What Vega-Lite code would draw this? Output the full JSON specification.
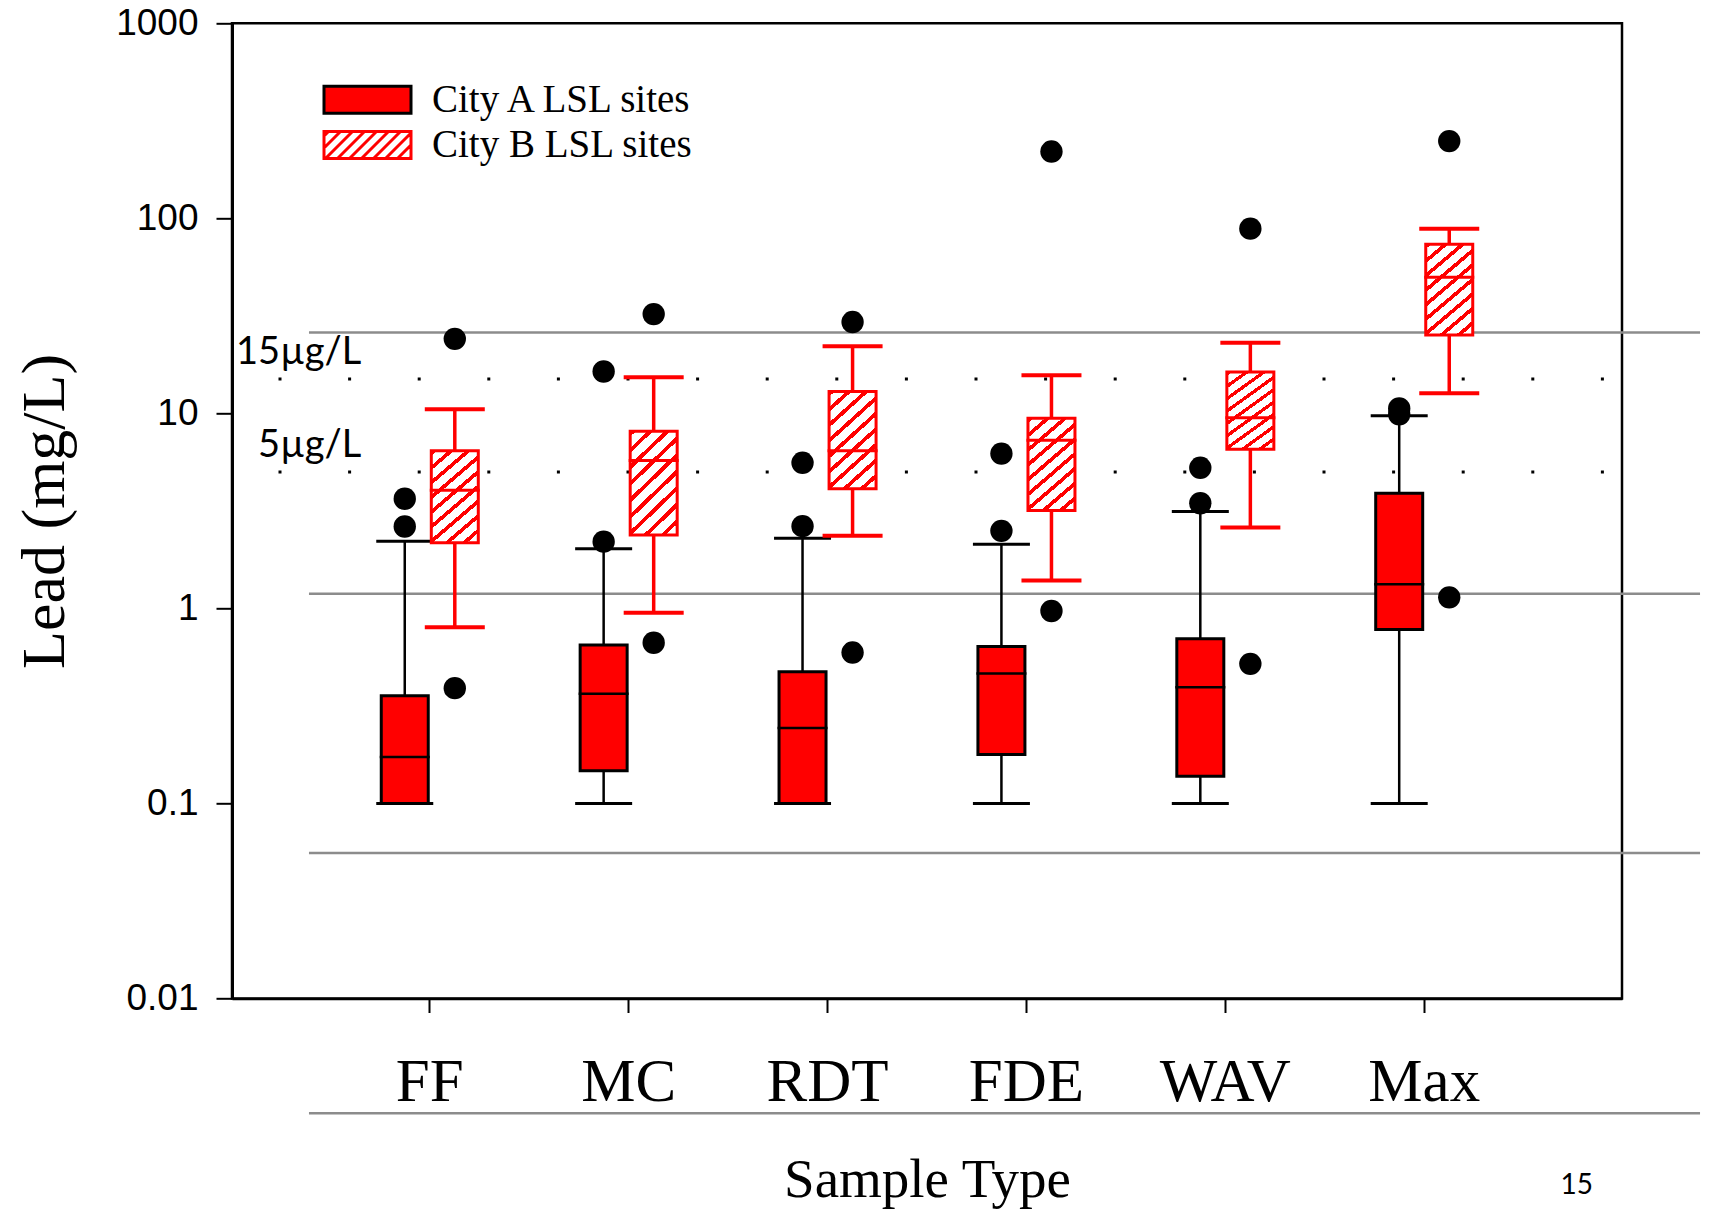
{
  "$schema": "https://vega.github.io/schema/vega-lite/v6.json",
  "width": 1390,
  "height": 975.2,
  "autosize": {"type": "none"},
  "padding": {"left": 232, "top": 23.3, "right": 92, "bottom": 210.5},
  "background": "white",
  "title": {"text": "15", "orient": "bottom", "anchor": "end", "frame": "group", "font": "Lato", "fontSize": 28, "fontWeight": "normal", "color": "black", "dx": -29, "offset": -13, "baseline": "alphabetic"},
  "datasets": {
    "boxes": [
      {"type": "FF", "city": "City A LSL sites", "low": 0.1, "q1": 0.1, "median": 0.173, "q3": 0.357, "high": 2.21},
      {"type": "FF", "city": "City B LSL sites", "low": 0.8, "q1": 2.17, "median": 4.04, "q3": 6.43, "high": 10.5},
      {"type": "MC", "city": "City A LSL sites", "low": 0.1, "q1": 0.147, "median": 0.365, "q3": 0.65, "high": 2.02},
      {"type": "MC", "city": "City B LSL sites", "low": 0.95, "q1": 2.38, "median": 5.74, "q3": 8.1, "high": 15.3},
      {"type": "RDT", "city": "City A LSL sites", "low": 0.1, "q1": 0.1, "median": 0.244, "q3": 0.473, "high": 2.29},
      {"type": "RDT", "city": "City B LSL sites", "low": 2.36, "q1": 4.11, "median": 6.43, "q3": 12.95, "high": 22.1},
      {"type": "FDE", "city": "City A LSL sites", "low": 0.1, "q1": 0.178, "median": 0.464, "q3": 0.637, "high": 2.13},
      {"type": "FDE", "city": "City B LSL sites", "low": 1.39, "q1": 3.18, "median": 7.29, "q3": 9.45, "high": 15.7},
      {"type": "WAV", "city": "City A LSL sites", "low": 0.1, "q1": 0.138, "median": 0.394, "q3": 0.698, "high": 3.14},
      {"type": "WAV", "city": "City B LSL sites", "low": 2.6, "q1": 6.54, "median": 9.5, "q3": 16.3, "high": 23.0},
      {"type": "Max", "city": "City A LSL sites", "low": 0.1, "q1": 0.78, "median": 1.33, "q3": 3.9, "high": 9.72},
      {"type": "Max", "city": "City B LSL sites", "low": 12.7, "q1": 25.2, "median": 49.9, "q3": 73.7, "high": 88.5}
    ],
    "outliers": [
      {"type": "FF", "city": "City A LSL sites", "value": 3.65},
      {"type": "FF", "city": "City A LSL sites", "value": 2.63},
      {"type": "FF", "city": "City B LSL sites", "value": 24.1},
      {"type": "FF", "city": "City B LSL sites", "value": 0.39},
      {"type": "MC", "city": "City A LSL sites", "value": 16.4},
      {"type": "MC", "city": "City A LSL sites", "value": 2.2},
      {"type": "MC", "city": "City B LSL sites", "value": 32.3},
      {"type": "MC", "city": "City B LSL sites", "value": 0.667},
      {"type": "RDT", "city": "City A LSL sites", "value": 5.58},
      {"type": "RDT", "city": "City A LSL sites", "value": 2.64},
      {"type": "RDT", "city": "City B LSL sites", "value": 29.4},
      {"type": "RDT", "city": "City B LSL sites", "value": 0.594},
      {"type": "FDE", "city": "City A LSL sites", "value": 6.22},
      {"type": "FDE", "city": "City A LSL sites", "value": 2.5},
      {"type": "FDE", "city": "City B LSL sites", "value": 220},
      {"type": "FDE", "city": "City B LSL sites", "value": 0.97},
      {"type": "WAV", "city": "City A LSL sites", "value": 5.26},
      {"type": "WAV", "city": "City A LSL sites", "value": 3.46},
      {"type": "WAV", "city": "City B LSL sites", "value": 88.5},
      {"type": "WAV", "city": "City B LSL sites", "value": 0.52},
      {"type": "Max", "city": "City A LSL sites", "value": 10.6},
      {"type": "Max", "city": "City A LSL sites", "value": 9.9},
      {"type": "Max", "city": "City B LSL sites", "value": 249},
      {"type": "Max", "city": "City B LSL sites", "value": 1.14}
    ],
    "slide": [{"level": 26.0}, {"level": 1.19}, {"level": 0.0557}, {"level": 0.00258}],
    "limits": [{"limit": 15, "label": "15µg/L"}, {"limit": 5, "label": "5µg/L"}]
  },
  "layer": [
    {
      "data": {"name": "slide"},
      "mark": {"type": "rule", "color": "#8c8c8c", "strokeWidth": 2.5, "xOffset": -120.8, "x2Offset": 275.8},
      "encoding": {
        "x": {"datum": "FF", "type": "nominal", "scale": {"type": "band", "domain": ["FF", "MC", "RDT", "FDE", "WAV", "Max"], "paddingInner": 0.4968, "paddingOuter": 0.7428},
          "axis": {"title": "Sample Type", "titleX": 695, "titleY": 197.5, "titleBaseline": "alphabetic", "labelAngle": 0}},
        "x2": {"datum": "Max"},
        "y": {"field": "level", "type": "quantitative", "scale": {"type": "log", "domain": [0.01, 1000], "nice": false},
          "axis": {"values": [0.01, 0.1, 1, 10, 100, 1000], "format": "~g", "title": "Lead (mg/L)", "titleAngle": -90, "titleBaseline": "alphabetic", "titleAlign": "center", "titleX": -168.7, "titleY": 487.6, "labelFlush": false, "labelOverlap": false}}
      }
    },
    {
      "data": {"name": "limits"},
      "mark": {"type": "rule", "color": "black", "strokeWidth": 3, "strokeDash": [3, 66.6], "strokeDashOffset": 51.5},
      "encoding": {
        "y": {"field": "limit", "type": "quantitative", "scale": {"type": "log", "domain": [0.01, 1000], "nice": false},
          "axis": {"values": [0.01, 0.1, 1, 10, 100, 1000], "format": "~g", "title": "Lead (mg/L)", "titleAngle": -90, "titleBaseline": "alphabetic", "titleAlign": "center", "titleX": -168.7, "titleY": 487.6, "labelFlush": false, "labelOverlap": false}}
      }
    },
    {
      "data": {"name": "limits"},
      "mark": {"type": "text", "font": "Lato", "fontSize": 38, "align": "right", "baseline": "alphabetic", "dx": -68.5, "dy": -15, "color": "black"},
      "encoding": {
        "x": {"datum": "FF", "type": "nominal", "scale": {"type": "band", "domain": ["FF", "MC", "RDT", "FDE", "WAV", "Max"], "paddingInner": 0.4968, "paddingOuter": 0.7428},
          "axis": {"title": "Sample Type", "titleX": 695, "titleY": 197.5, "titleBaseline": "alphabetic", "labelAngle": 0}},
        "y": {"field": "limit", "type": "quantitative", "scale": {"type": "log", "domain": [0.01, 1000], "nice": false},
          "axis": {"values": [0.01, 0.1, 1, 10, 100, 1000], "format": "~g", "title": "Lead (mg/L)", "titleAngle": -90, "titleBaseline": "alphabetic", "titleAlign": "center", "titleX": -168.7, "titleY": 487.6, "labelFlush": false, "labelOverlap": false}},
        "text": {"field": "label"}
      }
    },
    {
      "data": {"name": "boxes"},
      "transform": [{"filter": "datum.city === 'City A LSL sites'"}],
      "mark": {"type": "rule", "color": "black", "strokeWidth": 2.5},
      "encoding": {
        "x": {"field": "type", "type": "nominal", "scale": {"type": "band", "domain": ["FF", "MC", "RDT", "FDE", "WAV", "Max"], "paddingInner": 0.4968, "paddingOuter": 0.7428},
          "axis": {"title": "Sample Type", "titleX": 695, "titleY": 197.5, "titleBaseline": "alphabetic", "labelAngle": 0}},
        "xOffset": {"field": "city", "type": "nominal", "scale": {"domain": ["City A LSL sites", "City B LSL sites"], "paddingInner": 0, "paddingOuter": 0}},
        "y": {"field": "low", "type": "quantitative", "scale": {"type": "log", "domain": [0.01, 1000], "nice": false},
          "axis": {"values": [0.01, 0.1, 1, 10, 100, 1000], "format": "~g", "title": "Lead (mg/L)", "titleAngle": -90, "titleBaseline": "alphabetic", "titleAlign": "center", "titleX": -168.7, "titleY": 487.6, "labelFlush": false, "labelOverlap": false}},
        "y2": {"field": "high"}
      }
    },
    {
      "data": {"name": "boxes"},
      "transform": [{"filter": "datum.city === 'City B LSL sites'"}],
      "mark": {"type": "rule", "color": "#ff0000", "strokeWidth": 3.5},
      "encoding": {
        "x": {"field": "type", "type": "nominal", "scale": {"type": "band", "domain": ["FF", "MC", "RDT", "FDE", "WAV", "Max"], "paddingInner": 0.4968, "paddingOuter": 0.7428},
          "axis": {"title": "Sample Type", "titleX": 695, "titleY": 197.5, "titleBaseline": "alphabetic", "labelAngle": 0}},
        "xOffset": {"field": "city", "type": "nominal", "scale": {"domain": ["City A LSL sites", "City B LSL sites"], "paddingInner": 0, "paddingOuter": 0}},
        "y": {"field": "low", "type": "quantitative", "scale": {"type": "log", "domain": [0.01, 1000], "nice": false},
          "axis": {"values": [0.01, 0.1, 1, 10, 100, 1000], "format": "~g", "title": "Lead (mg/L)", "titleAngle": -90, "titleBaseline": "alphabetic", "titleAlign": "center", "titleX": -168.7, "titleY": 487.6, "labelFlush": false, "labelOverlap": false}},
        "y2": {"field": "high"}
      }
    },
    {
      "data": {"name": "boxes"},
      "transform": [{"filter": "datum.city === 'City A LSL sites'"}, {"fold": ["low", "high"], "as": ["end", "value"]}],
      "mark": {"type": "tick", "color": "black", "size": 57, "thickness": 3, "opacity": 1},
      "encoding": {
        "x": {"field": "type", "type": "nominal", "scale": {"type": "band", "domain": ["FF", "MC", "RDT", "FDE", "WAV", "Max"], "paddingInner": 0.4968, "paddingOuter": 0.7428},
          "axis": {"title": "Sample Type", "titleX": 695, "titleY": 197.5, "titleBaseline": "alphabetic", "labelAngle": 0}},
        "xOffset": {"field": "city", "type": "nominal", "scale": {"domain": ["City A LSL sites", "City B LSL sites"], "paddingInner": 0, "paddingOuter": 0}},
        "y": {"field": "value", "type": "quantitative", "scale": {"type": "log", "domain": [0.01, 1000], "nice": false},
          "axis": {"values": [0.01, 0.1, 1, 10, 100, 1000], "format": "~g", "title": "Lead (mg/L)", "titleAngle": -90, "titleBaseline": "alphabetic", "titleAlign": "center", "titleX": -168.7, "titleY": 487.6, "labelFlush": false, "labelOverlap": false}}
      }
    },
    {
      "data": {"name": "boxes"},
      "transform": [{"filter": "datum.city === 'City B LSL sites'"}, {"fold": ["low", "high"], "as": ["end", "value"]}],
      "mark": {"type": "tick", "color": "#ff0000", "size": 60, "thickness": 4, "opacity": 1},
      "encoding": {
        "x": {"field": "type", "type": "nominal", "scale": {"type": "band", "domain": ["FF", "MC", "RDT", "FDE", "WAV", "Max"], "paddingInner": 0.4968, "paddingOuter": 0.7428},
          "axis": {"title": "Sample Type", "titleX": 695, "titleY": 197.5, "titleBaseline": "alphabetic", "labelAngle": 0}},
        "xOffset": {"field": "city", "type": "nominal", "scale": {"domain": ["City A LSL sites", "City B LSL sites"], "paddingInner": 0, "paddingOuter": 0}},
        "y": {"field": "value", "type": "quantitative", "scale": {"type": "log", "domain": [0.01, 1000], "nice": false},
          "axis": {"values": [0.01, 0.1, 1, 10, 100, 1000], "format": "~g", "title": "Lead (mg/L)", "titleAngle": -90, "titleBaseline": "alphabetic", "titleAlign": "center", "titleX": -168.7, "titleY": 487.6, "labelFlush": false, "labelOverlap": false}}
      }
    },
    {
      "data": {"name": "boxes"},
      "transform": [{"filter": "datum.city === 'City A LSL sites'"}],
      "mark": {"type": "bar", "fill": "#ff0000", "stroke": "black", "strokeWidth": 3, "width": 47, "opacity": 1},
      "encoding": {
        "x": {"field": "type", "type": "nominal", "scale": {"type": "band", "domain": ["FF", "MC", "RDT", "FDE", "WAV", "Max"], "paddingInner": 0.4968, "paddingOuter": 0.7428},
          "axis": {"title": "Sample Type", "titleX": 695, "titleY": 197.5, "titleBaseline": "alphabetic", "labelAngle": 0}},
        "xOffset": {"field": "city", "type": "nominal", "scale": {"domain": ["City A LSL sites", "City B LSL sites"], "paddingInner": 0, "paddingOuter": 0}},
        "y": {"field": "q1", "type": "quantitative", "scale": {"type": "log", "domain": [0.01, 1000], "nice": false},
          "axis": {"values": [0.01, 0.1, 1, 10, 100, 1000], "format": "~g", "title": "Lead (mg/L)", "titleAngle": -90, "titleBaseline": "alphabetic", "titleAlign": "center", "titleX": -168.7, "titleY": 487.6, "labelFlush": false, "labelOverlap": false}},
        "y2": {"field": "q3"}
      }
    },
    {
      "data": {"name": "boxes"},
      "transform": [{"filter": "datum.city === 'City B LSL sites'"}],
      "mark": {"type": "bar", "stroke": "#ff0000", "strokeWidth": 3, "width": 47, "opacity": 1,
        "fill": {"gradient": "linear", "x1": 0, "y1": 0, "x2": 0.5285, "y2": 1.2066, "stops": [
          {"offset": 0, "color": "#ff0000"}, {"offset": 0.0367, "color": "#ff0000"}, {"offset": 0.0367, "color": "#ffffff"}, {"offset": 0.1111, "color": "#ffffff"},
          {"offset": 0.1111, "color": "#ff0000"}, {"offset": 0.1478, "color": "#ff0000"}, {"offset": 0.1478, "color": "#ffffff"}, {"offset": 0.2222, "color": "#ffffff"},
          {"offset": 0.2222, "color": "#ff0000"}, {"offset": 0.2589, "color": "#ff0000"}, {"offset": 0.2589, "color": "#ffffff"}, {"offset": 0.3333, "color": "#ffffff"},
          {"offset": 0.3333, "color": "#ff0000"}, {"offset": 0.37, "color": "#ff0000"}, {"offset": 0.37, "color": "#ffffff"}, {"offset": 0.4444, "color": "#ffffff"},
          {"offset": 0.4444, "color": "#ff0000"}, {"offset": 0.4811, "color": "#ff0000"}, {"offset": 0.4811, "color": "#ffffff"}, {"offset": 0.5556, "color": "#ffffff"},
          {"offset": 0.5556, "color": "#ff0000"}, {"offset": 0.5922, "color": "#ff0000"}, {"offset": 0.5922, "color": "#ffffff"}, {"offset": 0.6667, "color": "#ffffff"},
          {"offset": 0.6667, "color": "#ff0000"}, {"offset": 0.7033, "color": "#ff0000"}, {"offset": 0.7033, "color": "#ffffff"}, {"offset": 0.7778, "color": "#ffffff"},
          {"offset": 0.7778, "color": "#ff0000"}, {"offset": 0.8144, "color": "#ff0000"}, {"offset": 0.8144, "color": "#ffffff"}, {"offset": 0.8889, "color": "#ffffff"},
          {"offset": 0.8889, "color": "#ff0000"}, {"offset": 0.9256, "color": "#ff0000"}, {"offset": 0.9256, "color": "#ffffff"}, {"offset": 1, "color": "#ffffff"}
        ]}},
      "encoding": {
        "x": {"field": "type", "type": "nominal", "scale": {"type": "band", "domain": ["FF", "MC", "RDT", "FDE", "WAV", "Max"], "paddingInner": 0.4968, "paddingOuter": 0.7428},
          "axis": {"title": "Sample Type", "titleX": 695, "titleY": 197.5, "titleBaseline": "alphabetic", "labelAngle": 0}},
        "xOffset": {"field": "city", "type": "nominal", "scale": {"domain": ["City A LSL sites", "City B LSL sites"], "paddingInner": 0, "paddingOuter": 0}},
        "y": {"field": "q1", "type": "quantitative", "scale": {"type": "log", "domain": [0.01, 1000], "nice": false},
          "axis": {"values": [0.01, 0.1, 1, 10, 100, 1000], "format": "~g", "title": "Lead (mg/L)", "titleAngle": -90, "titleBaseline": "alphabetic", "titleAlign": "center", "titleX": -168.7, "titleY": 487.6, "labelFlush": false, "labelOverlap": false}},
        "y2": {"field": "q3"}
      }
    },
    {
      "data": {"name": "boxes"},
      "transform": [{"filter": "datum.city === 'City A LSL sites'"}],
      "mark": {"type": "tick", "color": "black", "size": 50, "thickness": 2.5, "opacity": 1},
      "encoding": {
        "x": {"field": "type", "type": "nominal", "scale": {"type": "band", "domain": ["FF", "MC", "RDT", "FDE", "WAV", "Max"], "paddingInner": 0.4968, "paddingOuter": 0.7428},
          "axis": {"title": "Sample Type", "titleX": 695, "titleY": 197.5, "titleBaseline": "alphabetic", "labelAngle": 0}},
        "xOffset": {"field": "city", "type": "nominal", "scale": {"domain": ["City A LSL sites", "City B LSL sites"], "paddingInner": 0, "paddingOuter": 0}},
        "y": {"field": "median", "type": "quantitative", "scale": {"type": "log", "domain": [0.01, 1000], "nice": false},
          "axis": {"values": [0.01, 0.1, 1, 10, 100, 1000], "format": "~g", "title": "Lead (mg/L)", "titleAngle": -90, "titleBaseline": "alphabetic", "titleAlign": "center", "titleX": -168.7, "titleY": 487.6, "labelFlush": false, "labelOverlap": false}}
      }
    },
    {
      "data": {"name": "boxes"},
      "transform": [{"filter": "datum.city === 'City B LSL sites'"}],
      "mark": {"type": "tick", "color": "#ff0000", "size": 50, "thickness": 3, "opacity": 1},
      "encoding": {
        "x": {"field": "type", "type": "nominal", "scale": {"type": "band", "domain": ["FF", "MC", "RDT", "FDE", "WAV", "Max"], "paddingInner": 0.4968, "paddingOuter": 0.7428},
          "axis": {"title": "Sample Type", "titleX": 695, "titleY": 197.5, "titleBaseline": "alphabetic", "labelAngle": 0}},
        "xOffset": {"field": "city", "type": "nominal", "scale": {"domain": ["City A LSL sites", "City B LSL sites"], "paddingInner": 0, "paddingOuter": 0}},
        "y": {"field": "median", "type": "quantitative", "scale": {"type": "log", "domain": [0.01, 1000], "nice": false},
          "axis": {"values": [0.01, 0.1, 1, 10, 100, 1000], "format": "~g", "title": "Lead (mg/L)", "titleAngle": -90, "titleBaseline": "alphabetic", "titleAlign": "center", "titleX": -168.7, "titleY": 487.6, "labelFlush": false, "labelOverlap": false}}
      }
    },
    {
      "data": {"name": "outliers"},
      "mark": {"type": "circle", "color": "black", "size": 500, "opacity": 1},
      "encoding": {
        "x": {"field": "type", "type": "nominal", "scale": {"type": "band", "domain": ["FF", "MC", "RDT", "FDE", "WAV", "Max"], "paddingInner": 0.4968, "paddingOuter": 0.7428},
          "axis": {"title": "Sample Type", "titleX": 695, "titleY": 197.5, "titleBaseline": "alphabetic", "labelAngle": 0}},
        "xOffset": {"field": "city", "type": "nominal", "scale": {"domain": ["City A LSL sites", "City B LSL sites"], "paddingInner": 0, "paddingOuter": 0}},
        "y": {"field": "value", "type": "quantitative", "scale": {"type": "log", "domain": [0.01, 1000], "nice": false},
          "axis": {"values": [0.01, 0.1, 1, 10, 100, 1000], "format": "~g", "title": "Lead (mg/L)", "titleAngle": -90, "titleBaseline": "alphabetic", "titleAlign": "center", "titleX": -168.7, "titleY": 487.6, "labelFlush": false, "labelOverlap": false}}
      }
    },
    {
      "data": {"name": "boxes"},
      "mark": {"type": "point", "filled": true, "size": 0, "opacity": 1},
      "encoding": {
        "x": {"field": "type", "type": "nominal", "scale": {"type": "band", "domain": ["FF", "MC", "RDT", "FDE", "WAV", "Max"], "paddingInner": 0.4968, "paddingOuter": 0.7428},
          "axis": {"title": "Sample Type", "titleX": 695, "titleY": 197.5, "titleBaseline": "alphabetic", "labelAngle": 0}},
        "xOffset": {"field": "city", "type": "nominal", "scale": {"domain": ["City A LSL sites", "City B LSL sites"], "paddingInner": 0, "paddingOuter": 0}},
        "y": {"field": "median", "type": "quantitative", "scale": {"type": "log", "domain": [0.01, 1000], "nice": false},
          "axis": {"values": [0.01, 0.1, 1, 10, 100, 1000], "format": "~g", "title": "Lead (mg/L)", "titleAngle": -90, "titleBaseline": "alphabetic", "titleAlign": "center", "titleX": -168.7, "titleY": 487.6, "labelFlush": false, "labelOverlap": false}},
        "fill": {"field": "city", "type": "nominal", "scale": {"domain": ["City A LSL sites", "City B LSL sites"], "range": ["#ff0000", "#ffffff"]},
          "legend": {"title": null, "orient": "none", "legendX": 114, "legendY": 55, "symbolSize": 1600, "symbolStrokeWidth": 3, "symbolOpacity": 1, "labelFont": "Liberation Serif", "labelFontSize": 39, "labelColor": "black", "labelOffset": 43, "labelLimit": 0, "rowPadding": 3.2, "padding": 0}},
        "stroke": {"field": "city", "type": "nominal", "scale": {"domain": ["City A LSL sites", "City B LSL sites"], "range": ["#000000", "#ff0000"]}},
        "shape": {"field": "city", "type": "nominal", "scale": {"domain": ["City A LSL sites", "City B LSL sites"], "range": [
          "M-2.175,-0.675H2.175V0.675H-2.175Z",
          "M-2.175,-0.675H2.175V0.675H-2.175Z M-2.175,-0.45L-1.95,-0.675 M-2.175,0.15L-1.35,-0.675 M-2.1,0.675L-0.75,-0.675 M-1.5,0.675L-0.15,-0.675 M-0.9,0.675L0.45,-0.675 M-0.3,0.675L1.05,-0.675 M0.3,0.675L1.65,-0.675 M0.9,0.675L2.175,-0.6 M1.5,0.675L2.175,0 M2.1,0.675L2.175,0.6"
        ]}}
      }
    }
  ],
  "config": {
    "view": {"stroke": "black", "strokeWidth": 2.5},
    "axisY": {"domainColor": "black", "domainWidth": 3, "tickColor": "black", "tickWidth": 2, "tickSize": 16, "labelFont": "Liberation Sans", "labelFontSize": 37, "labelColor": "black", "labelPadding": 18, "grid": false, "titleFont": "Liberation Serif", "titleFontSize": 62, "titleFontWeight": "normal", "titleColor": "black"},
    "axisX": {"domainColor": "black", "domainWidth": 2.5, "tickColor": "black", "tickWidth": 2, "tickSize": 14, "labelFont": "Liberation Serif", "labelFontSize": 61, "labelColor": "black", "labelBaseline": "alphabetic", "labelPadding": 87.5, "labelLimit": 0, "grid": false, "titleFont": "Liberation Serif", "titleFontSize": 55, "titleFontWeight": "normal", "titleColor": "black"}
  }
}
